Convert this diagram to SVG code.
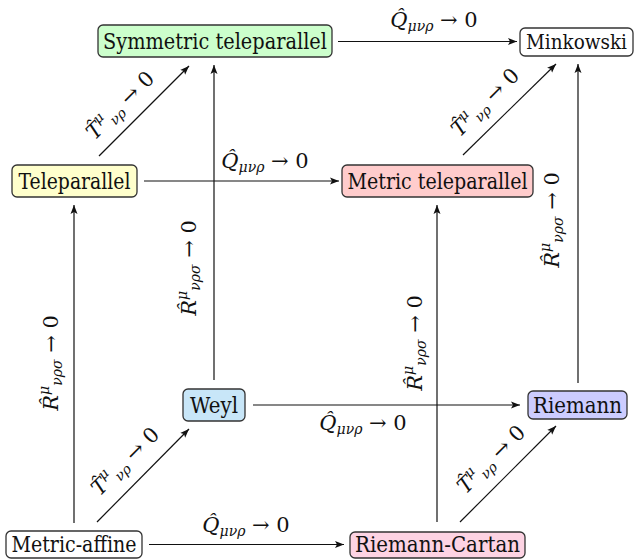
<svg xmlns="http://www.w3.org/2000/svg" width="636" height="559" viewBox="0 0 636 559">
<style>
.box{stroke:#333;stroke-width:1.3}
.nt{font-family:'DejaVu Serif',serif;font-size:22px;fill:#111;text-anchor:middle}
.lb{font-family:'DejaVu Serif',serif;font-size:21px;fill:#111;text-anchor:middle}
.it{font-style:italic}
.sm{font-size:14px;font-style:italic}
.cn line{stroke:#111;stroke-width:1.2;marker-end:url(#ah)}
</style>
<defs>
<marker id="ah" markerUnits="userSpaceOnUse" markerWidth="10" markerHeight="8" refX="9" refY="4" orient="auto">
<path d="M0,0.5 L9,4 L0,7.5 L2,4 z" fill="#111"/>
</marker>
</defs>
<rect width="636" height="559" fill="#fff"/>

<g id="connectors" class="cn">
<line x1="338" y1="41.5" x2="517" y2="41.5"/>
<line x1="144" y1="181" x2="339" y2="181"/>
<line x1="99" y1="156" x2="189" y2="66"/>
<line x1="463" y1="155" x2="556" y2="64"/>
<line x1="74" y1="523" x2="74" y2="205"/>
<line x1="214" y1="380" x2="214" y2="65"/>
<line x1="437" y1="522" x2="437" y2="205"/>
<line x1="578" y1="383" x2="578" y2="64"/>
<line x1="253" y1="405" x2="520" y2="405"/>
<line x1="149" y1="544.5" x2="344" y2="544.5"/>
<line x1="97" y1="522" x2="189" y2="429"/>
<line x1="460" y1="522" x2="556" y2="426"/>
</g>

<g id="labels">
<text class="lb" x="434" y="27"><tspan class="it">Q̂</tspan><tspan class="sm" dy="4">μνρ</tspan><tspan dy="-4"> → 0</tspan></text>
<text class="lb" x="265" y="168"><tspan class="it">Q̂</tspan><tspan class="sm" dy="4">μνρ</tspan><tspan dy="-4"> → 0</tspan></text>
<text class="lb" x="363" y="430"><tspan class="it">Q̂</tspan><tspan class="sm" dy="4">μνρ</tspan><tspan dy="-4"> → 0</tspan></text>
<text class="lb" x="246" y="532"><tspan class="it">Q̂</tspan><tspan class="sm" dy="4">μνρ</tspan><tspan dy="-4"> → 0</tspan></text>

<text class="lb" transform="translate(121,106) rotate(-45)" y="6"><tspan class="it">T̂</tspan><tspan class="sm" dy="-9">μ</tspan><tspan class="sm" dx="2" dy="13">νρ</tspan><tspan dy="-4"> → 0</tspan></text>
<text class="lb" transform="translate(486,103) rotate(-45)" y="6"><tspan class="it">T̂</tspan><tspan class="sm" dy="-9">μ</tspan><tspan class="sm" dx="2" dy="13">νρ</tspan><tspan dy="-4"> → 0</tspan></text>
<text class="lb" transform="translate(126,462) rotate(-45)" y="6"><tspan class="it">T̂</tspan><tspan class="sm" dy="-9">μ</tspan><tspan class="sm" dx="2" dy="13">νρ</tspan><tspan dy="-4"> → 0</tspan></text>
<text class="lb" transform="translate(492,460) rotate(-45)" y="6"><tspan class="it">T̂</tspan><tspan class="sm" dy="-9">μ</tspan><tspan class="sm" dx="2" dy="13">νρ</tspan><tspan dy="-4"> → 0</tspan></text>

<text class="lb" transform="translate(52,363) rotate(-90)" y="6"><tspan class="it">R̂</tspan><tspan class="sm" dy="-9">μ</tspan><tspan class="sm" dy="13">νρσ</tspan><tspan dy="-4"> → 0</tspan></text>
<text class="lb" transform="translate(190,268) rotate(-90)" y="6"><tspan class="it">R̂</tspan><tspan class="sm" dy="-9">μ</tspan><tspan class="sm" dy="13">νρσ</tspan><tspan dy="-4"> → 0</tspan></text>
<text class="lb" transform="translate(416,343) rotate(-90)" y="6"><tspan class="it">R̂</tspan><tspan class="sm" dy="-9">μ</tspan><tspan class="sm" dy="13">νρσ</tspan><tspan dy="-4"> → 0</tspan></text>
<text class="lb" transform="translate(553,220) rotate(-90)" y="6"><tspan class="it">R̂</tspan><tspan class="sm" dy="-9">μ</tspan><tspan class="sm" dy="13">νρσ</tspan><tspan dy="-4"> → 0</tspan></text>
</g>

<g id="symmetric-teleparallel"><rect class="box" x="98" y="25" width="234" height="32" rx="5" fill="#ccffcc"/><text class="nt" x="215" y="48.5" textLength="224" lengthAdjust="spacingAndGlyphs">Symmetric teleparallel</text></g>
<g id="minkowski"><rect class="box" x="520" y="28" width="113" height="28" rx="5" fill="#ffffff"/><text class="nt" x="576.5" y="49" font-size="20" style="font-size:20px" textLength="101" lengthAdjust="spacingAndGlyphs">Minkowski</text></g>
<g id="teleparallel"><rect class="box" x="12" y="165" width="125" height="32" rx="5" fill="#ffffcc"/><text class="nt" x="74.5" y="188.5" textLength="112" lengthAdjust="spacingAndGlyphs">Teleparallel</text></g>
<g id="metric-teleparallel"><rect class="box" x="342" y="165" width="191" height="32" rx="5" fill="#ffcccc"/><text class="nt" x="437.5" y="188.5" textLength="180" lengthAdjust="spacingAndGlyphs">Metric teleparallel</text></g>
<g id="weyl"><rect class="box" x="183" y="389" width="62" height="32" rx="5" fill="#c8e6f8"/><text class="nt" x="214" y="412.5" textLength="48" lengthAdjust="spacingAndGlyphs">Weyl</text></g>
<g id="riemann"><rect class="box" x="528" y="391" width="99" height="28" rx="5" fill="#ccccff"/><text class="nt" x="577.5" y="412.5" textLength="89" lengthAdjust="spacingAndGlyphs">Riemann</text></g>
<g id="metric-affine"><rect class="box" x="6" y="531" width="136" height="27" rx="5" fill="#ffffff"/><text class="nt" x="74" y="552" textLength="125" lengthAdjust="spacingAndGlyphs">Metric-affine</text></g>
<g id="riemann-cartan"><rect class="box" x="350" y="532" width="175" height="26" rx="5" fill="#fdd3e3"/><text class="nt" x="437.5" y="552" textLength="165" lengthAdjust="spacingAndGlyphs">Riemann-Cartan</text></g>
</svg>
